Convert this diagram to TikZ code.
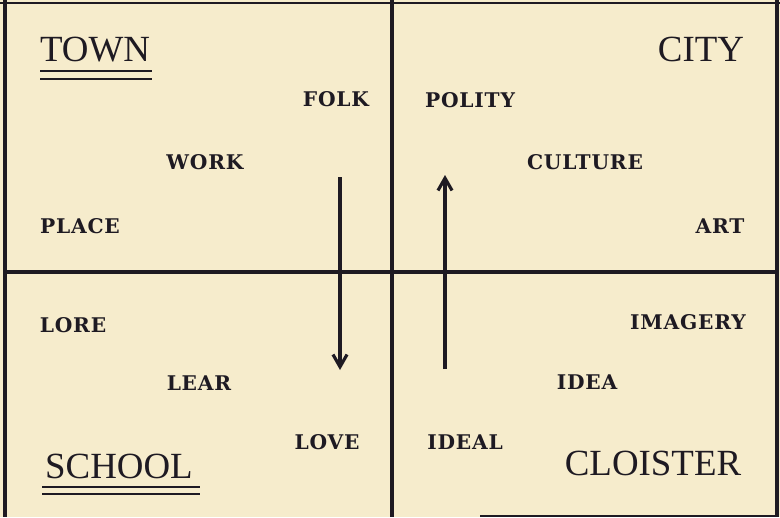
\documentclass[tikz,border=0pt]{standalone}
\usepackage{fontspec}
\setmainfont{Liberation Serif}
\newfontfamily\wordfont[LetterSpace=4]{DejaVu Serif}
\usepackage{tikz}
\usetikzlibrary{arrows.meta}
\usepackage{xcolor}
\definecolor{paper}{RGB}{246,236,204}
\definecolor{ink}{RGB}{30,26,34}

\begin{document}
\begin{tikzpicture}[x=0.02cm, y=-0.02cm,
    rule/.style={ink, line width=2pt},
    uline/.style={ink, line width=1.6pt},
    big/.style={anchor=base, inner sep=0pt, text=ink, font=\fontsize{21}{25}\selectfont},
    word/.style={anchor=base, inner sep=0pt, text=ink, font=\fontsize{11.5}{14}\selectfont\wordfont\bfseries},
    flow/.style={ink, line width=2.2pt, -{Straight Barb[length=7pt, width=8pt, line width=1.8pt]}}]
  \fill[paper] (0,0) rectangle (780,517);
  \useasboundingbox (0,0) rectangle (780,517);
  % frame and cross
  \draw[rule, line width=1.7pt] (0,3) -- (780,3);
  \draw[rule] (5,0) -- (5,517);
  \draw[rule] (777,0) -- (777,517);
  \draw[rule, line width=1.4pt] (480,516) -- (777,516);
  \draw[rule] (392,0) -- (392,517);
  \draw[rule] (5,272) -- (777,272);
  % corner names
  \node[big] (town) at (95,62) {TOWN};
  \draw[uline] (40,71) -- (152,71);  \draw[uline] (40,79) -- (152,79);
  \node[big] (city) at (701,62) {CITY};
  \node[big] (school) at (119,478) {SCHOOL};
  \draw[uline] (42,487) -- (200,487);  \draw[uline] (42,494) -- (200,494);
  \node[big] (cloister) at (653,475) {CLOISTER};
  % words
  \node[word] (folk) at (336,107) {FOLK};      \node[word] (polity) at (470,108) {POLITY};
  \node[word] (work) at (205,169) {WORK};      \node[word] (culture) at (585,169) {CULTURE};
  \node[word] (place) at (80,233) {PLACE};     \node[word] (art) at (720,233) {ART};
  \node[word] (lore) at (73,332) {LORE};       \node[word] (imagery) at (688,329) {IMAGERY};
  \node[word] (lear) at (199,390) {LEAR};      \node[word] (idea) at (587,389) {IDEA};
  \node[word] (love) at (327,449) {LOVE};      \node[word] (ideal) at (465,449) {IDEAL};
  % arrows
  \coordinate (downtop) at (340,177);  \coordinate (downend) at (340,370);
  \coordinate (upfoot) at (445,369);   \coordinate (uptop) at (445,175);
  \draw[flow] (downtop) -- (downend);
  \draw[flow] (upfoot) -- (uptop);
\end{tikzpicture}
\end{document}
